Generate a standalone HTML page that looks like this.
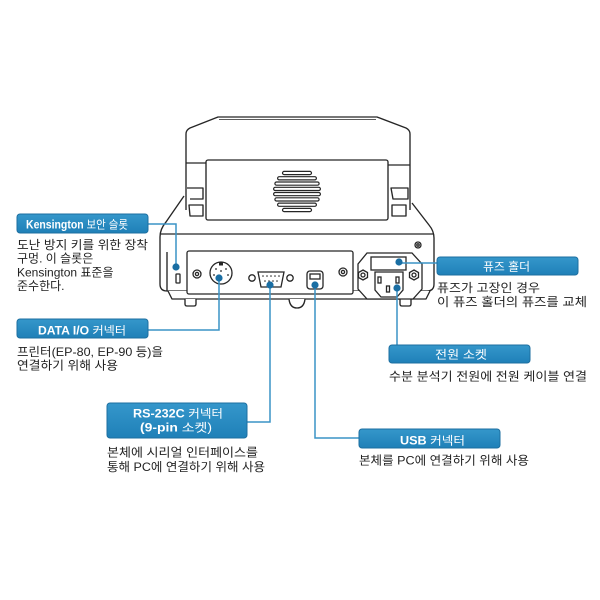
<!DOCTYPE html>
<html><head><meta charset="utf-8">
<style>
html,body{margin:0;padding:0;background:#fff;}
svg{display:block;}
text{font-family:"Liberation Sans","Noto Sans CJK KR",sans-serif;}
.d{font-size:12px;fill:#222;}
.b{font-size:11.5px;fill:#fff;}
.bb{font-weight:bold;}
</style></head>
<body>
<svg width="600" height="600" viewBox="0 0 600 600" xmlns="http://www.w3.org/2000/svg">
<defs>
<linearGradient id="g" x1="0" y1="0" x2="0" y2="1">
<stop offset="0" stop-color="#3597cb"/><stop offset="1" stop-color="#1f80b8"/>
</linearGradient>
</defs>
<rect width="600" height="600" fill="#fff"/>

<g fill="#fff" stroke="#262626" stroke-width="1.35" stroke-linejoin="round">
<!-- base -->
<path d="M184,196 L166,222 Q160,229 160,237 L160,284 Q160,291 167,291 L427,291 Q434,291 434,284 L434,238 Q434,231 429,225 L412,203"/>
<path d="M168,291 L172,299 L426,299 L430,291" />
<line x1="161" y1="234" x2="433" y2="234"/>
<line x1="167" y1="252" x2="167" y2="291"/>
<!-- feet -->
<path d="M185,299 L185,304 Q185,306 187,306 L194,306 Q196,306 196,304 L196,299"/>
<path d="M289,299 Q290,308 297,308 Q304,308 305,299"/>
<path d="M400,299 L400,304 Q400,306 402,306 L409,306 Q411,306 411,304 L411,299"/>
<!-- lid -->
<path d="M186,210 L186,134 Q186,130 190,128 L218,117 L377,117 L406,128 Q410,130 410,134 L410,210"/>
<line x1="219" y1="119.5" x2="376" y2="119.5" stroke-width="0.8"/>
<line x1="186" y1="163" x2="206" y2="163"/>
<line x1="388" y1="165" x2="410" y2="165"/>
<!-- hinges -->
<path d="M187,188 L203,188 L203,199 L190,199"/>
<path d="M189,205 L203,205 L203,216 L190,216 Z"/>
<path d="M391,188 L408,188 L408,199 L393,199 Z"/>
<path d="M392,205 L406,205 L406,216 L392,216 Z"/>
<!-- speaker panel -->
<rect x="206" y="160" width="182" height="60" rx="2"/>
</g>
<!-- grille -->
<g fill="#fff" stroke="#262626" stroke-width="1.2">
<rect x="282.5" y="171.4" width="29" height="3.2" rx="1.6"/>
<rect x="277.6" y="176.7" width="38.8" height="3.2" rx="1.6"/>
<rect x="274.9" y="182" width="44.2" height="3.2" rx="1.6"/>
<rect x="273.6" y="187.3" width="46.8" height="3.2" rx="1.6"/>
<rect x="273.6" y="192.5" width="46.8" height="3.2" rx="1.6"/>
<rect x="274.9" y="197.8" width="44.2" height="3.2" rx="1.6"/>
<rect x="277.6" y="203.1" width="38.8" height="3.2" rx="1.6"/>
<rect x="282.5" y="208.4" width="29" height="3.2" rx="1.6"/>
</g>

<g fill="#fff" stroke="#262626" stroke-width="1.3">
<!-- kensington slot -->
<rect x="176" y="274" width="4" height="9" rx="0.5"/>
<!-- connector panel -->
<rect x="187" y="251" width="166" height="43" rx="2"/>
<circle cx="197" cy="274" r="4"/><circle cx="197" cy="274" r="1.6"/>
<circle cx="343" cy="272" r="4"/><circle cx="343" cy="272" r="1.6"/>
<!-- DIN -->
<circle cx="221" cy="273" r="11"/>
<rect x="219" y="262.5" width="4" height="3" fill="#262626" stroke="none"/>
<!-- DB9 -->
<path d="M258,272 L284,272 L281,287 L261,287 Z"/>
<circle cx="252" cy="278" r="3.2"/>
<circle cx="290" cy="278" r="3.2"/>
<!-- USB -->
<rect x="307" y="271" width="16" height="18" rx="3"/>
<rect x="310" y="274" width="10" height="5"/>
<!-- power module -->
<circle cx="418" cy="245" r="3"/><circle cx="418" cy="245" r="1.2"/>
<path d="M367,253 L412,253 L422,264 L422,289 L413,299 L367,299 L358,289 L358,264 Z"/>
<rect x="371" y="257" width="35" height="13"/>
<path d="M375,272 L403,272 L403,290 L397,297 L381,297 L375,290 Z"/>
<rect x="378" y="277" width="3" height="6"/>
<rect x="396" y="277" width="3" height="6"/>
<rect x="386.5" y="286" width="3" height="6"/>
<polygon points="363,270 367.5,272.5 367.5,277.5 363,280 358.5,277.5 358.5,272.5"/>
<circle cx="363" cy="275" r="2"/>
<polygon points="414,270 418.5,272.5 418.5,277.5 414,280 409.5,277.5 409.5,272.5"/>
<circle cx="414" cy="275" r="2"/>
</g>
<g fill="#262626">
<circle cx="216" cy="269" r="0.9"/><circle cx="226" cy="269" r="0.9"/>
<circle cx="214" cy="275" r="0.9"/><circle cx="228" cy="275" r="0.9"/>
<circle cx="221" cy="271" r="0.9"/>
<circle cx="263" cy="276" r="0.8"/><circle cx="267" cy="276" r="0.8"/><circle cx="271" cy="276" r="0.8"/><circle cx="275" cy="276" r="0.8"/><circle cx="279" cy="276" r="0.8"/>
<circle cx="265" cy="281" r="0.8"/><circle cx="269" cy="281" r="0.8"/><circle cx="273" cy="281" r="0.8"/><circle cx="277" cy="281" r="0.8"/>
</g>

<!-- connectors -->
<g fill="none" stroke="#3a93c6" stroke-width="1.5">
<polyline points="148,224 176,224 176,267"/>
<polyline points="148,330 219,330 219,278"/>
<polyline points="247,422 270,422 270,285"/>
<polyline points="359,438 315,438 315,285"/>
<polyline points="399,263 437,263"/>
<polyline points="397,288 397,345"/>
</g>
<g fill="#1a6ea3">
<circle cx="176" cy="267" r="3.6"/>
<circle cx="219" cy="278" r="3.6"/>
<circle cx="270" cy="285" r="3.6"/>
<circle cx="315" cy="285" r="3.6"/>
<circle cx="399" cy="262" r="3.6"/>
<circle cx="397" cy="288" r="3.6"/>
</g>

<!-- label boxes -->
<g fill="url(#g)" stroke="#1d6fa0" stroke-width="1">
<rect x="17" y="214" width="131" height="19" rx="3"/>
<rect x="17" y="319" width="131" height="19" rx="3"/>
<rect x="437" y="257" width="141" height="18" rx="3"/>
<rect x="389" y="345" width="141" height="18" rx="3"/>
<rect x="107" y="403" width="140" height="35" rx="3"/>
<rect x="359" y="429" width="141" height="19" rx="3"/>
</g>
<text class="b" x="26" y="228.5" textLength="102" lengthAdjust="spacingAndGlyphs"><tspan class="bb">Kensington</tspan> 보안 슬롯</text>
<text class="b" x="38" y="334.5" textLength="88" lengthAdjust="spacingAndGlyphs"><tspan class="bb">DATA I/O</tspan> 커넥터</text>
<text class="b" x="483" y="270.5" textLength="47" lengthAdjust="spacingAndGlyphs">퓨즈 홀더</text>
<text class="b" x="435" y="358.5" textLength="52" lengthAdjust="spacingAndGlyphs">전원 소켓</text>
<text class="b" x="133" y="417.5" textLength="90" lengthAdjust="spacingAndGlyphs"><tspan class="bb">RS-232C</tspan>  커넥터</text>
<text class="b" x="140" y="431.5" textLength="72" lengthAdjust="spacingAndGlyphs"><tspan class="bb">(9-pin</tspan> 소켓)</text>
<text class="b" x="400" y="444.5" textLength="65" lengthAdjust="spacingAndGlyphs"><tspan class="bb">USB</tspan>  커넥터</text>

<!-- descriptions -->
<text class="d" x="17" y="249" textLength="131" lengthAdjust="spacingAndGlyphs">도난 방지 키를 위한 장착</text>
<text class="d" x="17" y="262.7">구멍. 이 슬롯은</text>
<text class="d" x="17" y="276.4">Kensington 표준을</text>
<text class="d" x="17" y="290">준수한다.</text>
<text class="d" x="17" y="356" textLength="146" lengthAdjust="spacingAndGlyphs">프린터(EP-80, EP-90 등)을</text>
<text class="d" x="17" y="369.5" textLength="101" lengthAdjust="spacingAndGlyphs">연결하기 위해 사용</text>
<text class="d" x="437" y="292" textLength="103" lengthAdjust="spacingAndGlyphs">퓨즈가 고장인 경우</text>
<text class="d" x="437" y="306" textLength="150" lengthAdjust="spacingAndGlyphs">이 퓨즈 홀더의 퓨즈를 교체</text>
<text class="d" x="389" y="380.5" textLength="198" lengthAdjust="spacingAndGlyphs">수분 분석기 전원에 전원 케이블 연결</text>
<text class="d" x="107" y="456.5" textLength="151" lengthAdjust="spacingAndGlyphs">본체에 시리얼 인터페이스를</text>
<text class="d" x="107" y="471" textLength="158" lengthAdjust="spacingAndGlyphs">통해 PC에 연결하기 위해 사용</text>
<text class="d" x="359" y="464.5" textLength="170" lengthAdjust="spacingAndGlyphs">본체를 PC에 연결하기 위해 사용</text>
</svg>
</body></html>
